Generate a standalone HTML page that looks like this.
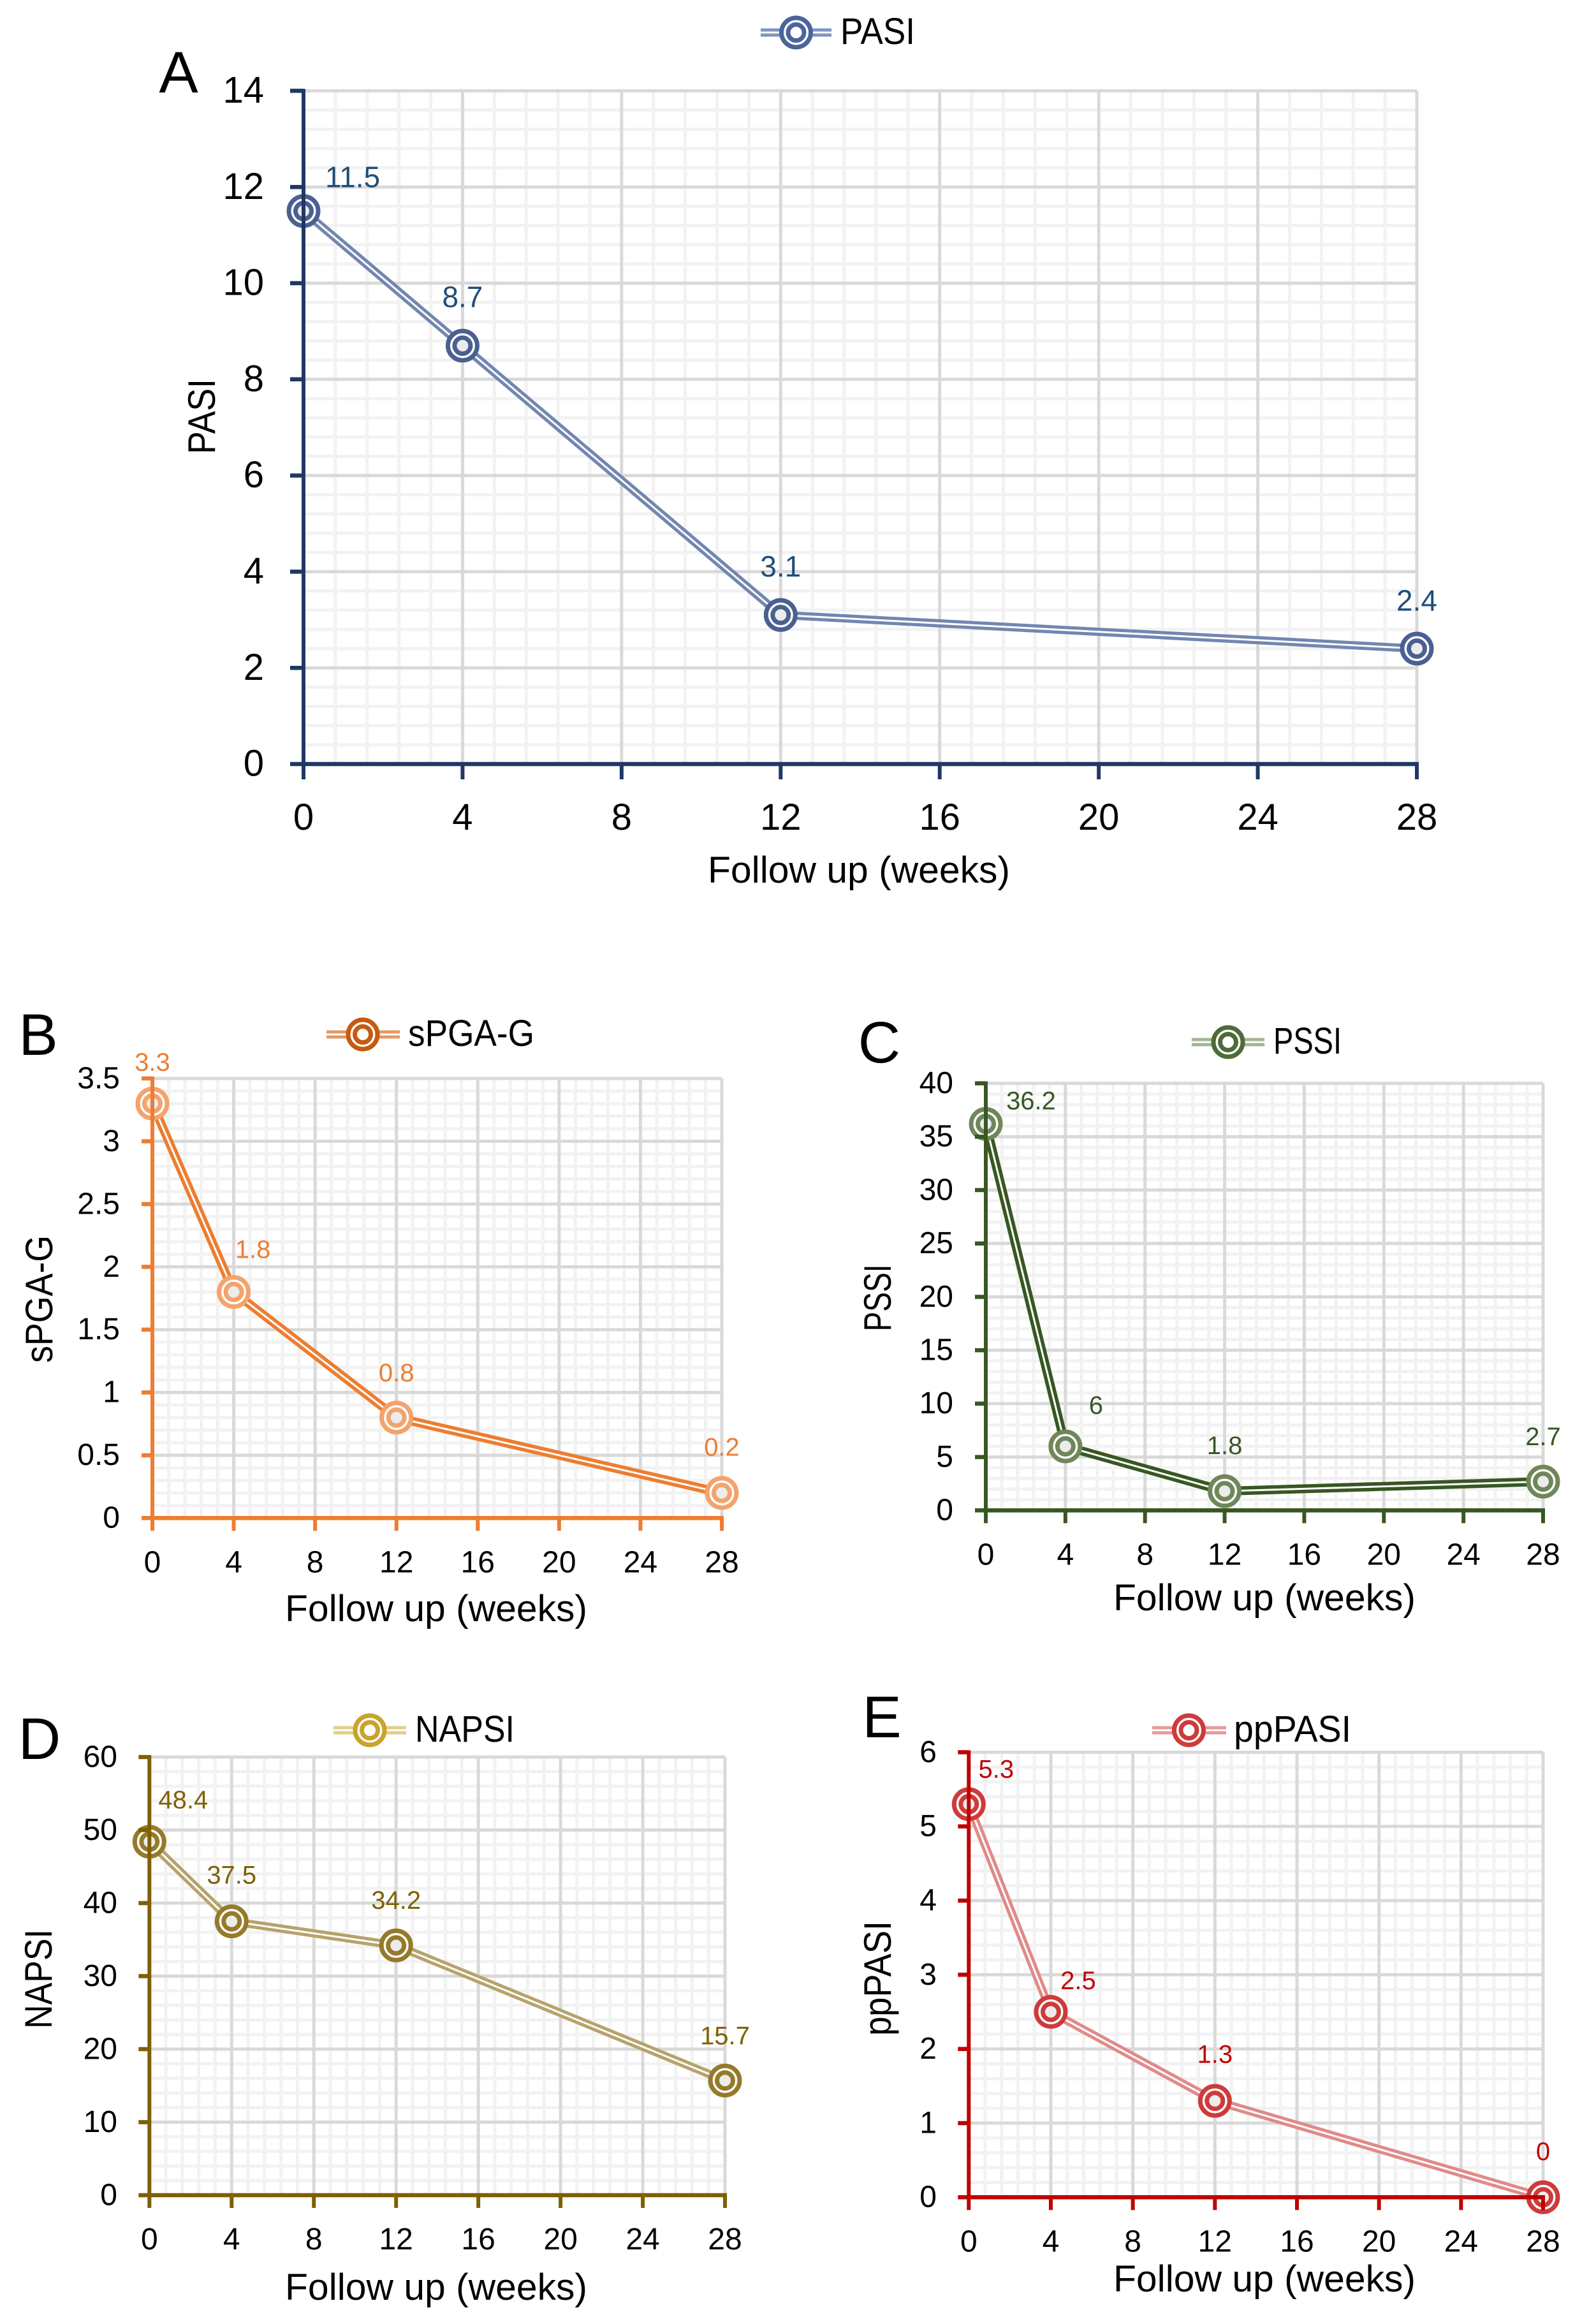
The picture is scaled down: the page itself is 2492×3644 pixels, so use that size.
<!DOCTYPE html>
<html lang="en">
<head>
<meta charset="utf-8">
<title>Follow-up scores: PASI, sPGA-G, PSSI, NAPSI, ppPASI</title>
<style>
html,body{margin:0;padding:0;background:#fff;}
svg{display:block;font-family:"Liberation Sans",sans-serif;}
</style>
</head>
<body>
<svg id="figure" xmlns="http://www.w3.org/2000/svg" width="2492" height="3644" viewBox="0 0 2492 3644">
<rect x="0" y="0" width="2492" height="3644" fill="#ffffff"/>
</svg>
<script>
const weeks = [0, 4, 12, 28];
const xTickLabels = [0, 4, 8, 12, 16, 20, 24, 28];

const pasiValues = [11.5, 8.7, 3.1, 2.4];
const pasiTicks = [0, 2, 4, 6, 8, 10, 12, 14];

const spgaValues = [3.3, 1.8, 0.8, 0.2];
const spgaTicks = [0, 0.5, 1, 1.5, 2, 2.5, 3, 3.5];

const pssiValues = [36.2, 6, 1.8, 2.7];
const pssiTicks = [0, 5, 10, 15, 20, 25, 30, 35, 40];

const napsiValues = [48.4, 37.5, 34.2, 15.7];
const napsiTicks = [0, 10, 20, 30, 40, 50, 60];

const pppasiValues = [5.3, 2.5, 1.3, 0];
const pppasiTicks = [0, 1, 2, 3, 4, 5, 6];

const NS = 'http://www.w3.org/2000/svg';
const svg = document.getElementById('figure');

function mk(tag, attrs, parent, text) {
  const el = document.createElementNS(NS, tag);
  for (const k in attrs) el.setAttribute(k, attrs[k]);
  if (text !== undefined) el.textContent = text;
  parent.appendChild(el);
  return el;
}

function drawChart(c) {
  const group = mk('g', {}, svg);
  
  

  const xMax = c.xTicks[c.xTicks.length - 1];
  const yMax = c.yTicks[c.yTicks.length - 1];
  const xScale = v => c.left + (v / xMax) * (c.right - c.left);
  const yScale = v => c.bottom - (v / yMax) * (c.bottom - c.top);

  // minor grid
  for (let i = 0; i < c.xTicks.length - 1; i++) {
    for (let m = 1; m < 5; m++) {
      const v = c.xTicks[i] + (c.xTicks[i + 1] - c.xTicks[i]) * m / 5;
      const ln = mk('line', {x1: xScale(v), x2: xScale(v), y1: c.top, y2: c.bottom, stroke: '#f2f2f2', 'stroke-width': 5}, group);
      
      
    }
  }
  for (let i = 0; i < c.yTicks.length - 1; i++) {
    for (let m = 1; m < 5; m++) {
      const v = c.yTicks[i] + (c.yTicks[i + 1] - c.yTicks[i]) * m / 5;
      const ln = mk('line', {x1: c.left, x2: c.right, y1: yScale(v), y2: yScale(v), stroke: '#f2f2f2', 'stroke-width': 5}, group);
      
      
    }
  }
  // major grid
  c.xTicks.forEach(v => {
    const ln = mk('line', {x1: xScale(v), x2: xScale(v), y1: c.top, y2: c.bottom, stroke: '#d9d9d9', 'stroke-width': 5}, group);
    
    
  });
  c.yTicks.forEach(v => {
    const ln = mk('line', {x1: c.left, x2: c.right, y1: yScale(v), y2: yScale(v), stroke: '#d9d9d9', 'stroke-width': 5}, group);
    
    
  });

  // series
  const pts = c.weeks.map((w, i) => xScale(w) + ',' + yScale(c.values[i])).join(' ');
  const outer = mk('polyline', {points: pts, fill: 'none', stroke: c.lineColor, 'stroke-width': c.lineWidth, 'stroke-linejoin': 'round'}, group);
  
  
  const inner = mk('polyline', {points: pts, fill: 'none', stroke: '#ffffff', 'stroke-width': 3, 'stroke-linejoin': 'round'}, group);
  
  

  c.weeks.forEach((w, i) => {
    const cx = xScale(w);
    const cy = yScale(c.values[i]);
    const m = mk('g', {}, group);
    
    
    mk('circle', {cx: cx, cy: cy, r: 23, fill: '#ffffff', stroke: c.markerColor, 'stroke-width': 7}, m);
    mk('circle', {cx: cx, cy: cy, r: 12.5, fill: '#ececec', stroke: c.markerColor, 'stroke-width': 7}, m);
  });

  // axes
  const axisY = mk('line', {x1: c.left, x2: c.left, y1: c.top - 3, y2: c.bottom, stroke: c.axisColor, 'stroke-width': 6}, group);
  
  
  const axisX = mk('line', {x1: c.left, x2: c.right + 3, y1: c.bottom, y2: c.bottom, stroke: c.axisColor, 'stroke-width': 6.5}, group);
  
  

  c.xTicks.forEach(v => {
    const t = mk('line', {x1: xScale(v), x2: xScale(v), y1: c.bottom, y2: c.bottom + c.tickLen + 3, stroke: c.axisColor, 'stroke-width': 6}, group);
    
    
    const lab = mk('text', {x: xScale(v), y: c.bottom + c.xLabelDrop, 'text-anchor': 'middle', 'font-size': c.tickFont, fill: '#000000'}, group, String(v));
    
    
  });
  c.yTicks.forEach(v => {
    const t = mk('line', {x1: c.left - c.tickLen, x2: c.left, y1: yScale(v), y2: yScale(v), stroke: c.axisColor, 'stroke-width': 6.5}, group);
    
    
    const lab = mk('text', {x: c.yLabelRight, y: yScale(v) + c.tickFont * 0.32, 'text-anchor': 'end', 'font-size': c.tickFont, fill: '#000000'}, group, String(v));
    
    
  });

  // data labels
  c.values.forEach((v, i) => {
    const lab = mk('text', {x: xScale(c.weeks[i]) + c.labelDx[i], y: yScale(v) + c.labelDy[i] - 1.5, 'text-anchor': 'middle', 'font-size': c.labelFont, fill: c.labelColor}, group, String(v));
    
    
  });

  // titles
  const xt = mk('text', {x: c.xTitleX, y: c.xTitleY, 'text-anchor': 'middle', 'font-size': 58, fill: '#000000', textLength: 474, lengthAdjust: 'spacingAndGlyphs'}, group, 'Follow up (weeks)');
  
  
  const yt = mk('text', {transform: 'translate(' + c.yTitleX + ' ' + c.yTitleY + ') rotate(-90)', 'text-anchor': 'middle', 'font-size': 60, fill: '#000000', textLength: c.yTitleLen, lengthAdjust: 'spacingAndGlyphs'}, group, c.name);
  
  

  // legend
  const lg = mk('g', {}, group);
  
  
  mk('line', {x1: c.legendLine[0], x2: c.legendLine[1], y1: c.legendY, y2: c.legendY, stroke: c.legendLineColor, 'stroke-width': 13}, lg);
  mk('line', {x1: c.legendLine[0], x2: c.legendLine[1], y1: c.legendY, y2: c.legendY, stroke: '#ffffff', 'stroke-width': 3}, lg);
  mk('circle', {cx: c.legendMarker, cy: c.legendY, r: 23, fill: '#ffffff', stroke: c.legendColor, 'stroke-width': 7}, lg);
  mk('circle', {cx: c.legendMarker, cy: c.legendY, r: 12.5, fill: '#ffffff', stroke: c.legendColor, 'stroke-width': 7}, lg);
  mk('text', {x: c.legendTextX, y: c.legendY + 18, 'font-size': 58, fill: '#000000', textLength: c.legendTextLen, lengthAdjust: 'spacingAndGlyphs'}, lg, c.name);

  // panel letter
  const letter = mk('text', {x: c.letterX, y: c.letterY, 'text-anchor': 'middle', 'font-size': 92, fill: '#000000'}, group, c.letter);
  
  
}

drawChart({
  key: 'pasi', name: 'PASI', letter: 'A', weeks: weeks, values: pasiValues, xTicks: xTickLabels, yTicks: pasiTicks,
  left: 476, right: 2222, top: 142.4, bottom: 1198,
  axisColor: '#1f3864', lineColor: '#7286b0', lineWidth: 13, markerColor: '#4a6090', labelColor: '#1f4e79',
  legendColor: '#4a659c', legendLineColor: '#7f94c0',
  tickLen: 21, tickFont: 58, labelFont: 46, xLabelDrop: 103, yLabelRight: 414,
  labelDx: [77, 0, 0, 0], labelDy: [-36, -59, -59, -58],
  xTitleX: 1347, xTitleY: 1384, yTitleX: 337, yTitleY: 653, yTitleLen: 118,
  legendLine: [1193, 1304], legendMarker: 1248.5, legendY: 51, legendTextX: 1318, legendTextLen: 117,
  letterX: 280, letterY: 145
});

drawChart({
  key: 'spga', name: 'sPGA-G', letter: 'B', weeks: weeks, values: spgaValues, xTicks: xTickLabels, yTicks: spgaTicks,
  left: 239, right: 1132, top: 1691, bottom: 2380.3,
  axisColor: '#ed7d31', lineColor: '#ed7d31', lineWidth: 14, markerColor: '#f3a36c', labelColor: '#ed7d31',
  legendColor: '#c55a11', legendLineColor: '#e49a66',
  tickLen: 17, tickFont: 48, labelFont: 40, xLabelDrop: 85, yLabelRight: 188,
  labelDx: [0, 30, 0, 0], labelDy: [-50, -52, -55, -57],
  xTitleX: 684, xTitleY: 2542, yTitleX: 82, yTitleY: 2037, yTitleLen: 200,
  legendLine: [512, 627], legendMarker: 569, legendY: 1622, legendTextX: 640, legendTextLen: 198,
  letterX: 60, letterY: 1654
});

drawChart({
  key: 'pssi', name: 'PSSI', letter: 'C', weeks: weeks, values: pssiValues, xTicks: xTickLabels, yTicks: pssiTicks,
  left: 1546, right: 2420, top: 1698.6, bottom: 2368.3,
  axisColor: '#385723', lineColor: '#385723', lineWidth: 14, markerColor: '#6f8759', labelColor: '#385723',
  legendColor: '#4f6b38', legendLineColor: '#a3b592',
  tickLen: 17, tickFont: 48, labelFont: 40, xLabelDrop: 85, yLabelRight: 1495,
  labelDx: [71, 48, 0, 0], labelDy: [-21, -49.5, -56.5, -55.5],
  xTitleX: 1983, xTitleY: 2525, yTitleX: 1397, yTitleY: 2035, yTitleLen: 105,
  legendLine: [1869, 1983], legendMarker: 1926, legendY: 1634, legendTextX: 1997, legendTextLen: 107,
  letterX: 1379, letterY: 1666
});

drawChart({
  key: 'napsi', name: 'NAPSI', letter: 'D', weeks: weeks, values: napsiValues, xTicks: xTickLabels, yTicks: napsiTicks,
  left: 234.3, right: 1137, top: 2755, bottom: 3442,
  axisColor: '#7f6000', lineColor: '#b5a36a', lineWidth: 13, markerColor: '#957a2a', labelColor: '#7f6000',
  legendColor: '#c9a32c', legendLineColor: '#e3cf86',
  tickLen: 17, tickFont: 48, labelFont: 40, xLabelDrop: 85, yLabelRight: 184,
  labelDx: [53, 0, 0, 0], labelDy: [-51, -57.6, -56, -55],
  xTitleX: 684, xTitleY: 3606, yTitleX: 81, yTitleY: 3103, yTitleLen: 156,
  legendLine: [523, 637], legendMarker: 580, legendY: 2713, legendTextX: 651, legendTextLen: 156,
  letterX: 62, letterY: 2758
});

drawChart({
  key: 'pppasi', name: 'ppPASI', letter: 'E', weeks: weeks, values: pppasiValues, xTicks: xTickLabels, yTicks: pppasiTicks,
  left: 1519.3, right: 2420, top: 2747.5, bottom: 3445.3,
  axisColor: '#c00000', lineColor: '#e08a8a', lineWidth: 13, markerColor: '#cf3a3a', labelColor: '#c00000',
  legendColor: '#cf3a3a', legendLineColor: '#e79a9a',
  tickLen: 17, tickFont: 48, labelFont: 40, xLabelDrop: 85, yLabelRight: 1469,
  labelDx: [43, 43, 0, 0], labelDy: [-40, -34, -58, -57],
  xTitleX: 1983, xTitleY: 3593, yTitleX: 1397, yTitleY: 3102, yTitleLen: 180,
  legendLine: [1807, 1923], legendMarker: 1864.5, legendY: 2713, legendTextX: 1935, legendTextLen: 184,
  letterX: 1383, letterY: 2724
});
</script>
</body>
</html>
